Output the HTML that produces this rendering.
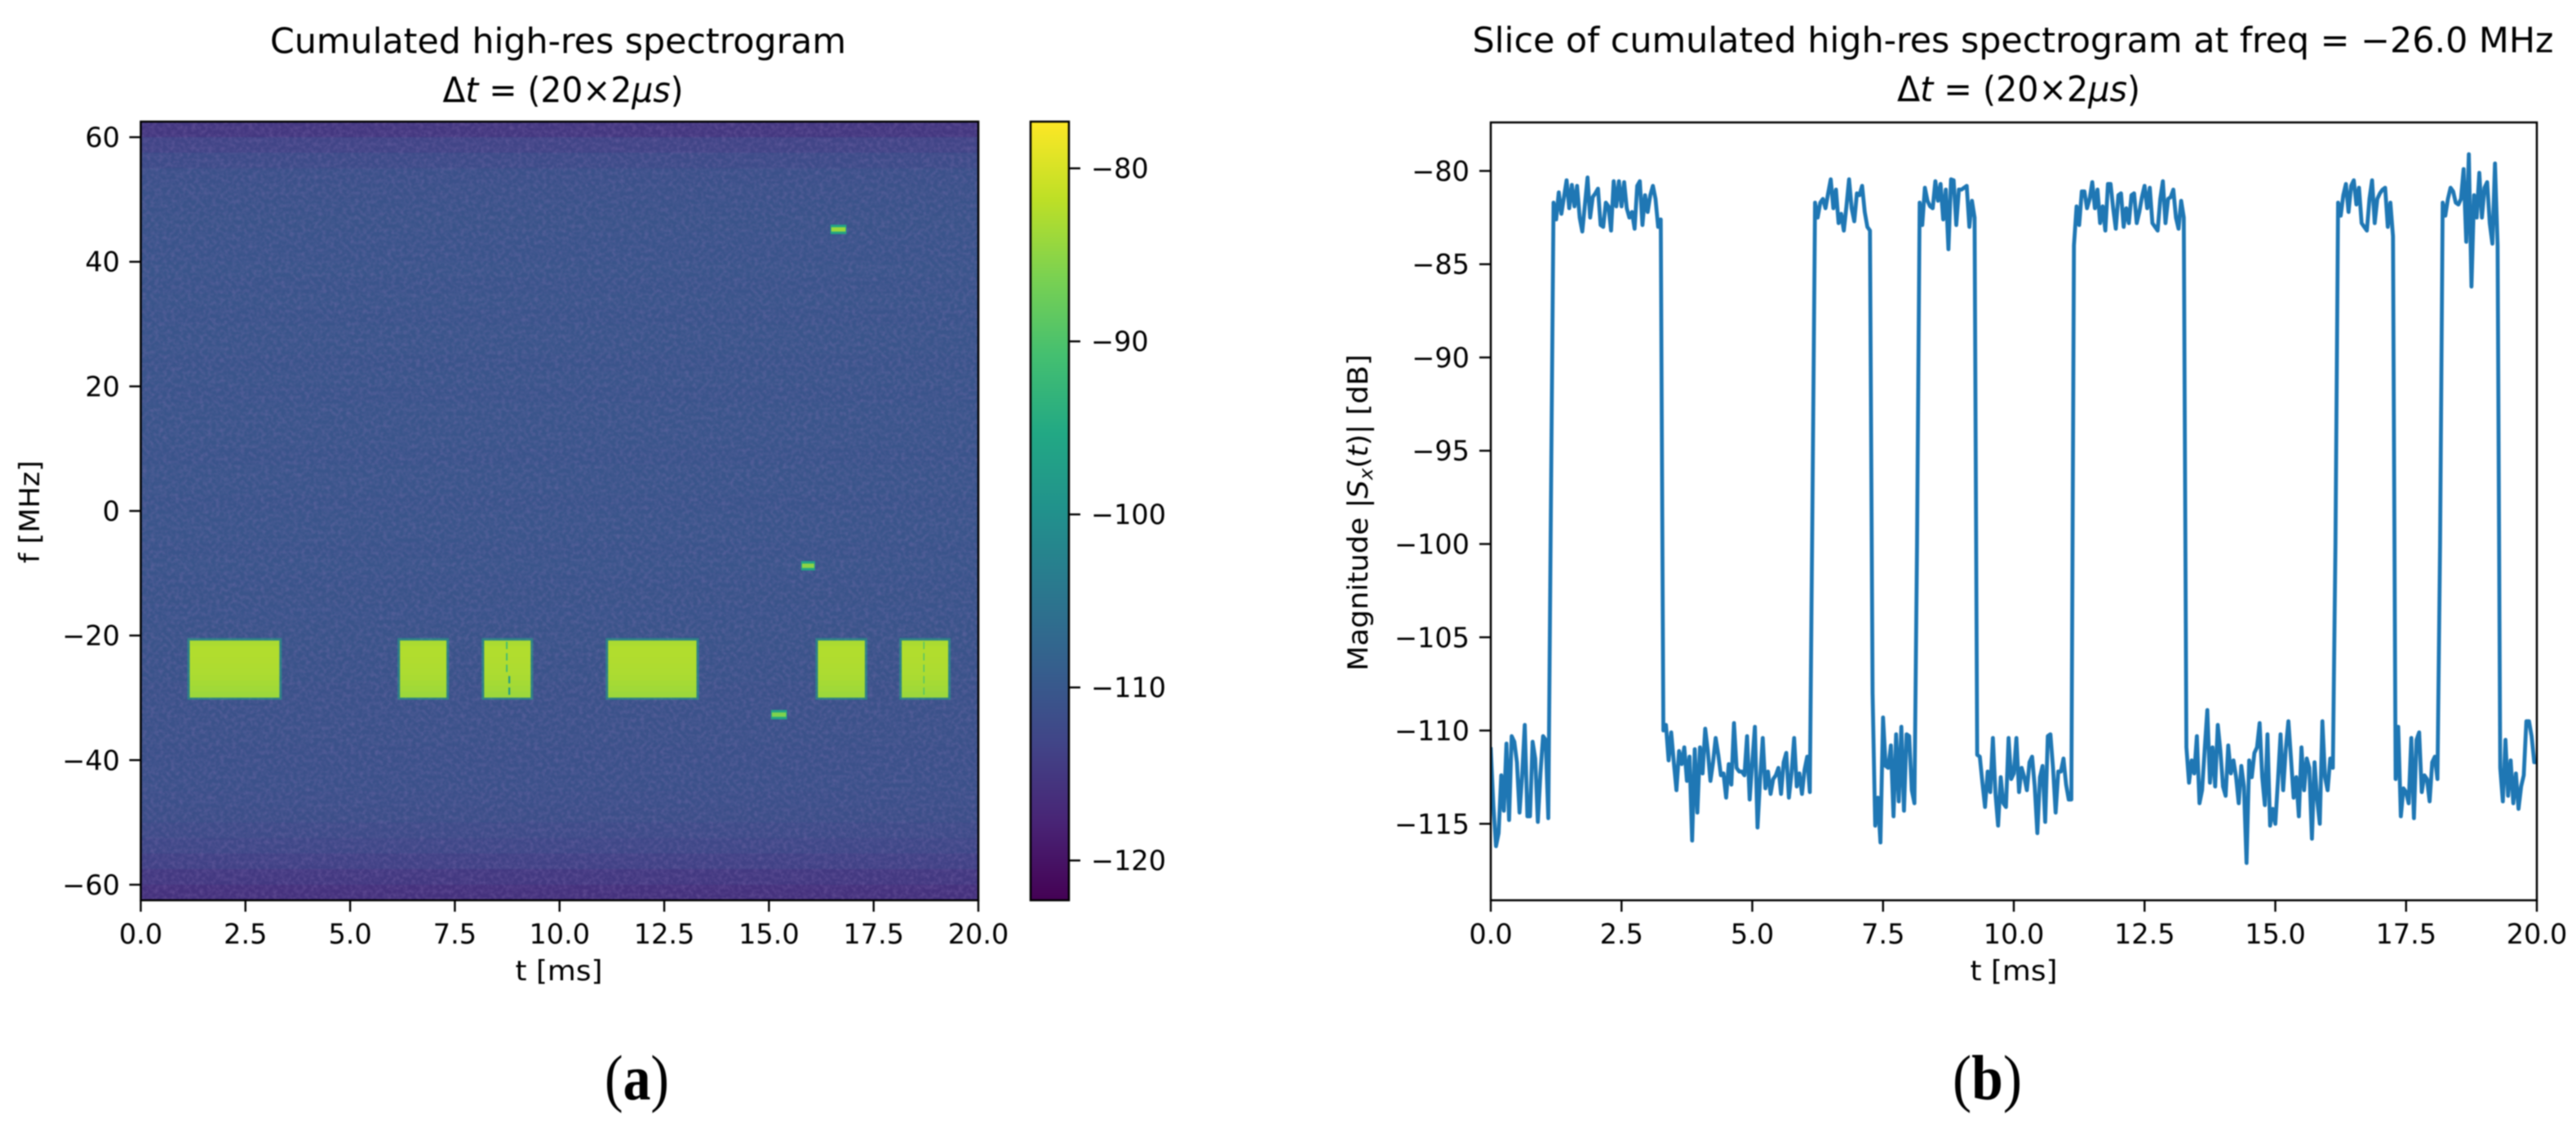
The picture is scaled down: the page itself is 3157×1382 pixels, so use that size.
<!DOCTYPE html>
<html lang="en">
<head>
<meta charset="utf-8">
<title>Cumulated high-res spectrogram and slice</title>
<style>
  html, body { margin: 0; padding: 0; background: #fff; }
  svg#figure { display: block; width: 3157px; height: 1382px; filter: blur(0.9px); }
  text { font-family: "DejaVu Sans", "Liberation Sans", sans-serif; fill: #000; }
  .tick { font-size: 33.5px; }
  .title { font-size: 42.5px; }
  .caption { font-family: "Liberation Serif", serif; font-size: 78px; font-weight: bold; }
  .caption .paren { font-weight: normal; }
</style>
</head>
<body>
<svg id="figure" xmlns="http://www.w3.org/2000/svg" width="3157" height="1382" viewBox="0 0 3157 1382">
  <defs>
    <filter id="grain" x="0" y="0" width="100%" height="100%">
      <feTurbulence type="fractalNoise" baseFrequency="0.2" numOctaves="2" seed="7"/>
      <feColorMatrix type="matrix" values="0 0 0 0 0.27  0 0 0 0 0.18  0 0 0 0 0.48  2.2 0 0 0 -0.85"/>
    </filter>
    <clipPath id="clip-a"><rect x="172" y="149" width="1027" height="954"/></clipPath>
    <clipPath id="clip-b"><rect x="1827" y="150" width="1282" height="953"/></clipPath>
    <linearGradient id="cbar-gradient" x1="0" y1="1" x2="0" y2="0"></linearGradient>
  </defs>

  <g id="panel-a">
    <text class="title" x="684" y="65" text-anchor="middle" textLength="706" lengthAdjust="spacingAndGlyphs">Cumulated high-res spectrogram</text>
    <text class="title" x="690" y="125" text-anchor="middle" textLength="295" lengthAdjust="spacingAndGlyphs">Δ<tspan font-style="italic">t</tspan> = (20×2<tspan font-style="italic">μs</tspan>)</text>
    <g id="heatmap" clip-path="url(#clip-a)"></g>
    <g id="axes-a"></g>
    <text class="tick" x="685" y="1201" text-anchor="middle" textLength="107" lengthAdjust="spacingAndGlyphs">t [ms]</text>
    <text class="tick" transform="translate(48 627) rotate(-90)" text-anchor="middle" textLength="126" lengthAdjust="spacingAndGlyphs">f [MHz]</text>
    <g id="colorbar"></g>
    <text class="caption" x="780.5" y="1347" text-anchor="middle" textLength="79" lengthAdjust="spacingAndGlyphs"><tspan class="paren">(</tspan>a<tspan class="paren">)</tspan></text>
  </g>

  <g id="panel-b">
    <text class="title" x="2467" y="64" text-anchor="middle" textLength="1325" lengthAdjust="spacingAndGlyphs">Slice of cumulated high-res spectrogram at freq = −26.0 MHz</text>
    <text class="title" x="2474" y="124" text-anchor="middle" textLength="298" lengthAdjust="spacingAndGlyphs">Δ<tspan font-style="italic">t</tspan> = (20×2<tspan font-style="italic">μs</tspan>)</text>
    <g id="series-b" clip-path="url(#clip-b)"></g>
    <g id="axes-b"></g>
    <text class="tick" x="2468" y="1201" text-anchor="middle" textLength="107" lengthAdjust="spacingAndGlyphs">t [ms]</text>
    <text class="tick" transform="translate(1676 628) rotate(-90)" text-anchor="middle" textLength="388" lengthAdjust="spacingAndGlyphs">Magnitude |<tspan font-style="italic">S</tspan><tspan font-style="italic" font-size="23" dy="6">x</tspan><tspan dy="-6">(</tspan><tspan font-style="italic">t</tspan>)| [dB]</text>
    <text class="caption" x="2435.5" y="1347" text-anchor="middle" textLength="85" lengthAdjust="spacingAndGlyphs"><tspan class="paren">(</tspan>b<tspan class="paren">)</tspan></text>
  </g>
</svg>

<script>
// ---- Spectrogram data ----
const timeTickValues = [0, 2.5, 5, 7.5, 10, 12.5, 15, 17.5, 20];
const timeTickLabels = ['0.0', '2.5', '5.0', '7.5', '10.0', '12.5', '15.0', '17.5', '20.0'];
const freqTickValues = [60, 40, 20, 0, -20, -40, -60];
const freqTickLabels = ['60', '40', '20', '0', '−20', '−40', '−60'];
const colorTickValues = [-80, -90, -100, -110, -120];
const colorTickLabels = ['−80', '−90', '−100', '−110', '−120'];
const sliceTickValues = [-80, -85, -90, -95, -100, -105, -110, -115];
const sliceTickLabels = ['−80', '−85', '−90', '−95', '−100', '−105', '−110', '−115'];

// noise floor per 2.5 MHz row, from +62.5 MHz down to −62.5 MHz (dB)
const noiseFloorDb = [
  -115.0, -113.2, -111.9, -111.2, -110.9, -110.8, -110.7, -110.6, -110.6, -110.5,
  -110.6, -110.5, -110.6, -110.5, -110.5, -110.6, -110.5, -110.6, -110.5, -110.5,
  -110.5, -110.6, -110.5, -110.5, -110.6, -110.5, -110.5, -110.6, -110.5, -110.6,
  -110.7, -110.6, -110.7, -110.7, -110.8, -110.8, -110.9, -110.9, -111.0, -111.0,
  -111.1, -111.1, -111.2, -111.3, -111.5, -112.0, -112.7, -113.6, -114.8, -115.8
];
const burstStartMs = [1.17, 6.19, 8.20, 11.16, 16.17, 18.17];
const burstEndMs   = [3.31, 7.30, 9.31, 13.27, 17.29, 19.28];
const burstTopMHz = -20.8;
const burstBottomMHz = -29.9;
// burst level across its height, top to bottom (dB)
const burstProfileDb = [-83.0, -82.6, -82.6, -82.7, -82.8, -82.9, -83.1, -83.4, -83.7, -84.0];
const chirpStartMs = [16.47, 15.77, 15.05];
const chirpEndMs   = [16.85, 16.10, 15.43];
const chirpFreqMHz = [45.2, -8.8, -32.7];
const chirpPeakDb  = [-84, -85, -86];
const notchTimeMs  = [8.74, 8.80, 18.70];
const notchTopMHz  = [-21.0, -26.5, -21.0];
const notchEndMHz  = [-26.0, -30.0, -30.0];
const notchLevelDb = [-92, -98, -90];
const notchWidthPx = [1.8, 2.2, 1.4];

// colormap anchors (viridis, evenly spaced from 0 to 1)
const viridisStops = ['#440154', '#482475', '#414487', '#355f8d', '#2a788e', '#21918c', '#22a884', '#44bf70', '#7ad151', '#bddf26', '#fde725'];

// ---- Slice data: magnitude (dB) every 0.05 ms from t = 0 to 20 ms ----
const sliceStepMs = 0.05;
const sliceDb = [
  -111,-114,-116.2,-115.5,-112.4,-114.3,-110.7,-114.8,-110.3,-110.6,
  -111.7,-114.4,-112.4,-109.7,-114.6,-114.6,-110.6,-111.5,-114.9,-112.3,
  -110.3,-110.5,-114.7,-98,-81.7,-82.6,-81.15,-82.3,-81.4,-80.5,
  -82,-80.75,-81.9,-80.8,-82.5,-83.25,-81.8,-80.35,-82.5,-81.4,
  -81.2,-80.95,-82.9,-83,-81.7,-81.9,-83.2,-80.55,-81.9,-80.55,
  -81.9,-80.6,-82,-82.5,-82.2,-83.1,-80.8,-80.55,-82.9,-81.3,
  -82.2,-81.3,-80.8,-81.5,-83,-82.6,-110,-109.7,-111.6,-110.1,
  -111.7,-113.2,-111.1,-111.8,-110.9,-112.7,-111.4,-115.9,-111,-114.4,
  -110.9,-112.3,-109.9,-111.1,-112.7,-111.7,-110.4,-111.3,-112.4,-112.3,
  -113.6,-111.8,-112.9,-109.6,-112,-112.2,-112.2,-112.4,-110.3,-113.7,
  -111.7,-109.8,-115.2,-112.6,-110.4,-113.1,-112.2,-113.4,-112.6,-112.4,
  -112,-113.4,-111.7,-111.2,-113.6,-112.3,-110.4,-113,-112.3,-113.4,
  -112.1,-111.4,-113.3,-98,-81.7,-82.5,-81.7,-81.5,-82,-81.2,
  -80.45,-82,-81,-82.8,-82.3,-83.2,-81.9,-80.45,-82,-82.7,
  -81.2,-81.3,-80.8,-82.2,-83,-83.2,-108,-115.1,-113.6,-116,
  -109.3,-111.9,-112,-110.8,-114.6,-110.2,-113.8,-109.8,-114.3,-110.2,
  -110.3,-113.2,-113.9,-100,-81.7,-82.9,-80.9,-81.6,-81.9,-82,
  -80.55,-81.6,-80.7,-82.6,-81,-84.2,-80.45,-80.5,-82.9,-81,
  -81,-80.9,-80.8,-83,-81.6,-82.5,-111.3,-111.4,-112.8,-114.1,
  -112.2,-113.3,-110.4,-113.4,-115.1,-112.5,-113.9,-114.1,-110.4,-112.6,
  -112.3,-110.4,-113.3,-112,-112.5,-113.2,-111.7,-111.4,-113,-115.5,
  -112.5,-111.9,-114.9,-110.3,-110.2,-112,-114.4,-112.2,-112.2,-111.5,
  -112.9,-113.7,-113.7,-84,-81.9,-82.9,-81.1,-81.1,-82,-81.5,
  -80.6,-82,-81,-82.8,-81.9,-83.2,-80.7,-80.7,-82,-83.1,
  -81.3,-81.2,-83,-82,-82.8,-81.3,-81.2,-82.8,-82.2,-81.4,
  -80.8,-82,-80.9,-82.8,-83,-83.2,-81.5,-80.55,-82.8,-81.5,
  -81.4,-81,-82.5,-83.1,-81.6,-82.5,-110.9,-112.8,-111.6,-112.3,
  -110.3,-113.9,-113.2,-111,-108.9,-112.8,-110.9,-113,-109.7,-111.1,
  -113,-113.5,-110.8,-112.3,-111.6,-112.5,-113.9,-111.9,-113,-117.1,
  -111.6,-112.5,-111.2,-110.9,-109.6,-112.5,-114,-110.2,-115.1,-114.2,
  -115,-112.7,-110.2,-113.2,-111,-109.5,-111.5,-113.6,-112.5,-114.6,
  -110.9,-113.2,-111.5,-112,-115.8,-111.7,-113.7,-115,-109.5,-112.5,
  -113.2,-111.5,-112,-100,-81.7,-82.4,-81.3,-80.7,-82.2,-80.8,
  -80.5,-81.8,-80.9,-82.8,-83,-83.2,-81.5,-80.5,-82.8,-81.5,
  -81.2,-81,-80.9,-83,-81.7,-83.5,-112.6,-109.8,-114.6,-113.1,
  -113.3,-113.9,-110.4,-114.7,-110.5,-110.1,-113.3,-112.4,-112.6,-113.8,
  -111.7,-111.4,-112.6,-100,-81.7,-82.4,-81.5,-80.9,-81.1,-81.7,
  -81.8,-81.5,-79.9,-83.8,-79.1,-86.2,-81.3,-82.5,-80.1,-82.5,
  -80.9,-80.6,-82.8,-83.9,-79.6,-84,-112,-113.8,-110.5,-113.5,
  -111.6,-113.9,-112.3,-114.2,-113,-112.4,-109.5,-109.5,-110.3,-111.7,
  -111.7
];

// ---- Scales ----
const NS = 'http://www.w3.org/2000/svg';
function linear(d0, d1, r0, r1) {
  return function (v) { return r0 + (v - d0) * (r1 - r0) / (d1 - d0); };
}
const xA = linear(0, 20, 172.5, 1199);
const yA = linear(-62.5, 62.5, 1103, 149);
const yC = linear(-122.3, -77.3, 1103, 149);
const xB = linear(0, 20, 1827, 3109);
const yB = linear(-119.1, -77.4, 1103, 150);
const normDb = linear(-122.3, -77.3, 0, 1);

function hexToRgb(h) {
  return [parseInt(h.slice(1, 3), 16), parseInt(h.slice(3, 5), 16), parseInt(h.slice(5, 7), 16)];
}
function viridis(db) {
  const n = Math.max(0, Math.min(1, normDb(db))) * (viridisStops.length - 1);
  const i = Math.min(Math.floor(n), viridisStops.length - 2);
  const f = n - i;
  const a = hexToRgb(viridisStops[i]);
  const b = hexToRgb(viridisStops[i + 1]);
  return 'rgb(' + a.map(function (c, k) { return Math.round(c + (b[k] - c) * f); }).join(',') + ')';
}
function mk(tag, attrs) {
  const el = document.createElementNS(NS, tag);
  Object.keys(attrs).forEach(function (k) { el.setAttribute(k, attrs[k]); });
  return el;
}

// ---- Heatmap ----
const heatmap = document.getElementById('heatmap');
const rowHeightMHz = 125 / noiseFloorDb.length;
noiseFloorDb.forEach(function (db, r) {
  const top = 62.5 - r * rowHeightMHz;
  const row = mk('rect', { x: xA(0), y: yA(top), width: xA(20) - xA(0), height: yA(top - rowHeightMHz) - yA(top) + 0.5, fill: viridis(db) });
  
  
  heatmap.appendChild(row);
});
const grain = mk('rect', { x: 172, y: 149, width: 1027, height: 954, filter: 'url(#grain)', opacity: 0.3 });


heatmap.appendChild(grain);

burstStartMs.forEach(function (start, b) {
  const end = burstEndMs[b];
  const halo = mk('rect', { x: xA(start) - 3, y: yA(burstTopMHz) - 3, width: xA(end) - xA(start) + 6, height: yA(burstBottomMHz) - yA(burstTopMHz) + 6, fill: viridis(-96), opacity: 0.55 });
  
  
  heatmap.appendChild(halo);
  const rowMHz = (burstTopMHz - burstBottomMHz) / burstProfileDb.length;
  burstProfileDb.forEach(function (db, r) {
    const f = burstTopMHz - r * rowMHz;
    const cell = mk('rect', { x: xA(start), y: yA(f), width: xA(end) - xA(start), height: yA(f - rowMHz) - yA(f) + 0.5, fill: viridis(db) });
    
    
    heatmap.appendChild(cell);
  });
});
notchTimeMs.forEach(function (t, n) {
  const notch = mk('line', { x1: xA(t), x2: xA(t), y1: yA(notchTopMHz[n]), y2: yA(notchEndMHz[n]), stroke: viridis(notchLevelDb[n]), 'stroke-width': notchWidthPx[n], 'stroke-dasharray': '9 5' });
  
  
  heatmap.appendChild(notch);
});
chirpStartMs.forEach(function (start, c) {
  const f = chirpFreqMHz[c];
  const halo = mk('rect', { x: xA(start), y: yA(f + 0.75), width: xA(chirpEndMs[c]) - xA(start), height: yA(f - 0.75) - yA(f + 0.75), fill: viridis(-96) });
  
  
  heatmap.appendChild(halo);
  const core = mk('rect', { x: xA(start) + 1, y: yA(f + 0.35), width: xA(chirpEndMs[c]) - xA(start) - 2, height: yA(f - 0.35) - yA(f + 0.35), fill: viridis(chirpPeakDb[c]) });
  
  
  heatmap.appendChild(core);
});

// ---- Axes ----
function drawXAxis(group, scale, prefix) {
  timeTickValues.forEach(function (v, i) {
    const tick = mk('line', { x1: scale(v), x2: scale(v), y1: 1103, y2: 1117, stroke: '#000', 'stroke-width': 2.4 });
    
    
    group.appendChild(tick);
    const label = mk('text', { x: scale(v), y: 1156, 'text-anchor': 'middle', 'class': 'tick' });
    
    
    label.textContent = timeTickLabels[i];
    group.appendChild(label);
  });
}
function drawYAxis(group, scale, values, labels, x0, labelX, prefix) {
  values.forEach(function (v, i) {
    const tick = mk('line', { x1: x0 - 14, x2: x0, y1: scale(v), y2: scale(v), stroke: '#000', 'stroke-width': 2.4 });
    
    
    group.appendChild(tick);
    const label = mk('text', { x: labelX, y: scale(v) + 12, 'text-anchor': 'end', 'class': 'tick' });
    
    
    label.textContent = labels[i];
    group.appendChild(label);
  });
}
function drawFrame(group, x, y, w, h, name) {
  const frame = mk('rect', { x: x, y: y, width: w, height: h, fill: 'none', stroke: '#000', 'stroke-width': 2.5 });
  
  
  group.appendChild(frame);
}
const axesA = document.getElementById('axes-a');
drawXAxis(axesA, xA, 'spectrogram');
drawYAxis(axesA, yA, freqTickValues, freqTickLabels, 172.5, 147, 'spectrogram');
drawFrame(axesA, 172.5, 149, 1026.5, 954, 'spectrogram-frame');

// ---- Colorbar ----
const gradient = document.getElementById('cbar-gradient');
viridisStops.forEach(function (c, i) {
  gradient.appendChild(mk('stop', { offset: i / (viridisStops.length - 1), 'stop-color': c }));
});
const colorbar = document.getElementById('colorbar');
const cbarFill = mk('rect', { x: 1263, y: 149, width: 47, height: 954, fill: 'url(#cbar-gradient)' });


colorbar.appendChild(cbarFill);
colorTickValues.forEach(function (v, i) {
  const tick = mk('line', { x1: 1310, x2: 1324, y1: yC(v), y2: yC(v), stroke: '#000', 'stroke-width': 2.4 });
  
  
  colorbar.appendChild(tick);
  const label = mk('text', { x: 1337, y: yC(v) + 12, 'class': 'tick' });
  
  
  label.textContent = colorTickLabels[i];
  colorbar.appendChild(label);
});
drawFrame(colorbar, 1263, 149, 47, 954, 'colorbar-frame');

// ---- Slice line ----
const seriesB = document.getElementById('series-b');
const pathD = sliceDb.map(function (db, i) {
  return (i === 0 ? 'M' : 'L') + xB(i * sliceStepMs).toFixed(2) + ' ' + yB(db).toFixed(2);
}).join(' ');
const sliceLine = mk('path', { d: pathD, fill: 'none', stroke: '#1f77b4', 'stroke-width': 4.8, 'stroke-linejoin': 'round', 'stroke-linecap': 'square' });


seriesB.appendChild(sliceLine);

const axesB = document.getElementById('axes-b');
drawXAxis(axesB, xB, 'slice');
drawYAxis(axesB, yB, sliceTickValues, sliceTickLabels, 1827, 1801, 'slice');
drawFrame(axesB, 1827, 150, 1282, 953, 'slice-frame');
</script>
</body>
</html>
